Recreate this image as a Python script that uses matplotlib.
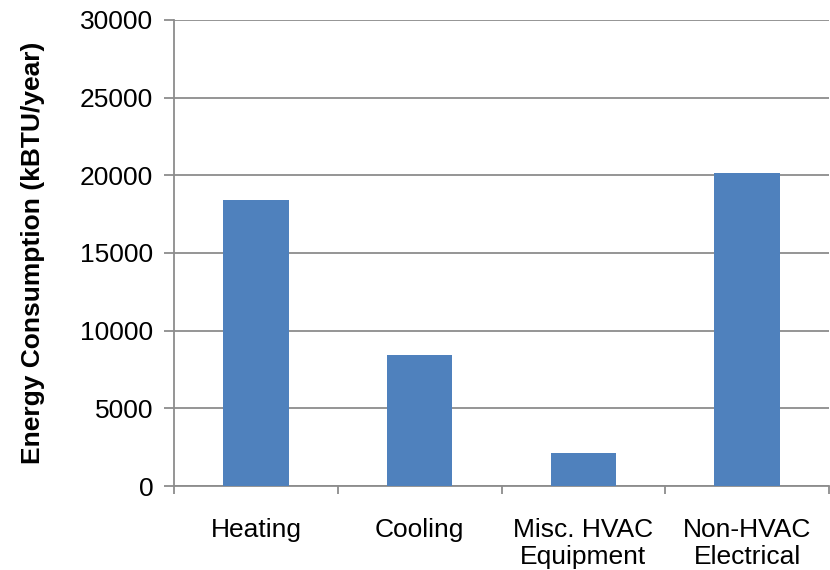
import numpy as np
import matplotlib.pyplot as plt

plt.rcParams['font.family'] = ['Liberation Sans', 'DejaVu Sans']

categories = ['Heating', 'Cooling', 'Misc. HVAC\nEquipment', 'Non-HVAC\nElectrical']
energy = [18400, 8420, 2150, 20150]

fig = plt.figure(figsize=(8.3, 5.7), dpi=100)
ax = fig.add_axes([174 / 830, 1 - 486 / 570, 655 / 830, 466 / 570])

x = np.arange(len(categories))
ax.bar(x, energy, width=0.4, color='#4f81bd', zorder=3)

ax.set_xlim(-0.5, len(categories) - 0.5)
ax.set_ylim(0, 30000)
ax.set_yticks(np.arange(0, 30001, 5000))
ax.yaxis.grid(True, color='#8c8c8c', linewidth=1.3, zorder=0)

# category labels centred, tick marks at category boundaries
ax.set_xticks(x)
ax.set_xticklabels(categories, fontsize=19, linespacing=1.15)
ax.set_xticks(np.arange(-0.5, len(categories)), minor=True)
ax.tick_params(axis='x', which='major', length=0, pad=23)
ax.tick_params(axis='x', which='minor', length=6, width=1.3, color='#8c8c8c', direction='out')
ax.tick_params(axis='y', labelsize=19, length=7, width=1.3, color='#8c8c8c', pad=8)

for s in ['top', 'right']:
    ax.spines[s].set_visible(False)
for s in ['left', 'bottom']:
    ax.spines[s].set_color('#8c8c8c')
    ax.spines[s].set_linewidth(1.3)

ax.set_ylabel('Energy Consumption (kBTU/year)', fontsize=19, fontweight='bold', labelpad=25)

fig.savefig('out.png', dpi=100)
